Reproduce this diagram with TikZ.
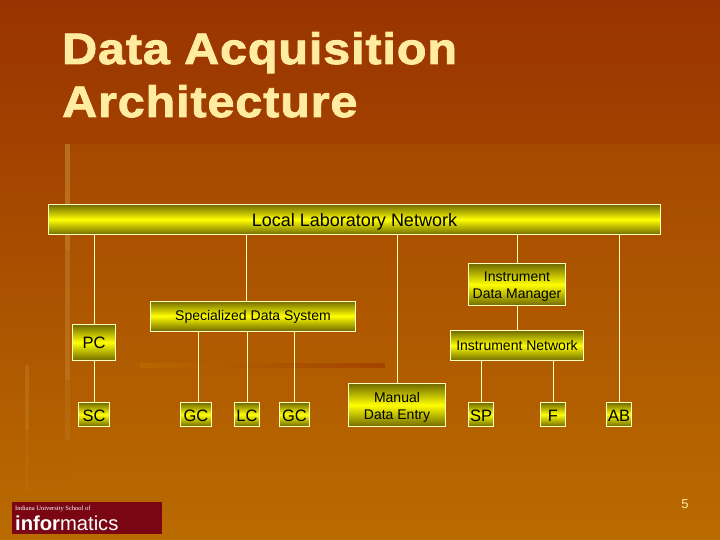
\documentclass[tikz,border=0pt]{standalone}
\usepackage{fontspec}
\setmainfont{Liberation Sans}
\newfontfamily\titlefont[FakeStretch=1.1,LetterSpace=2.1,FakeBold=2]{Liberation Sans Bold}
\newfontfamily\logofont{Liberation Serif}
\usepackage{tikz}
\usetikzlibrary{positioning, calc}
\definecolor{rusttop}   {RGB}{153, 51,  0}
\definecolor{rustbot}   {RGB}{186,107,  0}
\definecolor{titlecream}{RGB}{255,236,160}
\definecolor{boxedge}   {RGB}{255,255,190}
\definecolor{boxolive}  {RGB}{112,106,  0}
\definecolor{logored}   {RGB}{122,  6, 20}
\tikzset{
	netbox/.style={draw=boxedge,line width=1pt,top color=boxolive,bottom color=boxolive,middle color=yellow,
		text=black,align=center,inner sep=0pt,anchor=north west,text depth=0pt,text height=10pt,font=\fontsize{14}{17}\selectfont},
	netline/.style={draw=boxedge,line width=1pt},
	smallbox/.style={netbox,minimum height=24pt,text height=14pt,font=\fontsize{16.5}{18}\selectfont},
	titletext/.style={text=titlecream,anchor=base west,inner sep=0pt,font=\fontsize{44}{50}\titlefont}
}
\begin{document}
\begin{tikzpicture}[x=1pt,y=-1pt]
	\useasboundingbox (0,0) rectangle (720,540);
	% background
	\shade[top color=rusttop,bottom color=rustbot] (0,0) rectangle (720,540);
	\fill[rustbot,opacity=0.18] (70,144) rectangle (720,540);
	\fill[rustbot!80!white,opacity=0.6] (65,144) rectangle (70,250);
	\fill[rustbot!80!white,opacity=0.45] (65,250) rectangle (70,380);
	\fill[rustbot!80!white,opacity=0.25] (65,380) rectangle (70,440);
	\shade[left color=rustbot!92!rusttop,right color=rustbot!30!rusttop] (140,363) rectangle (385,367);
	\fill[rustbot!80!white,opacity=0.35] (25,365) rectangle (29,430);
	\fill[rustbot!80!white,opacity=0.15] (25,430) rectangle (29,490);
	% title
	\node[titletext] (title1) at (62,64) {Data Acquisition};
	\node[titletext] (title2) at (62,117) {Architecture};
	% boxes
	\node[netbox,minimum width=612pt,minimum height=30pt,text height=13pt,font=\fontsize{18}{20}\selectfont] (lln) at (48,204) {Local Laboratory Network};
	\node[netbox,minimum width=97pt,minimum height=42pt,text height=28pt] (idm) at (468,263) {Instrument\\Data Manager};
	\node[netbox,minimum width=205pt,minimum height=30pt,text height=9pt] (sds) at (150,300.5) {Specialized Data System};
	\node[netbox,minimum width=43pt,minimum height=36pt,text height=12pt,font=\fontsize{16.5}{18}\selectfont] (pc) at (72,324) {PC};
	\node[netbox,minimum width=133pt,minimum height=30pt] (inet) at (450,330) {Instrument Network};
	\node[smallbox,minimum width=31pt] (sc) at (78,402) {SC};
	\node[smallbox,minimum width=31pt] (gca) at (180,402) {GC};
	\node[smallbox,minimum width=25pt] (lc) at (234,402) {LC};
	\node[smallbox,minimum width=30pt] (gcb) at (279,402) {GC};
	\node[netbox,minimum width=97pt,minimum height=43pt,text height=29pt] (mde) at (348,383) {Manual\\Data Entry};
	\node[smallbox,minimum width=25pt] (sp) at (468,402) {SP};
	\node[smallbox,minimum width=25pt] (f) at (540,402) {F};
	\node[smallbox,minimum width=25pt] (ab) at (606,402) {AB};
	% connectors
	\draw[netline] (lln.south -| pc) -- (pc.north);
	\draw[netline] ($(lln.south -| sds)+(-7,0)$) -- ($(sds.north)+(-7,0)$);
	\draw[netline] (lln.south -| mde) -- (mde.north);
	\draw[netline] (lln.south -| idm) -- (idm.north);
	\draw[netline] (lln.south -| ab) -- (ab.north);
	\draw[netline] (pc.south -| sc) -- (sc.north);
	\draw[netline] (idm) -- (inet);
	\draw[netline] ($(sds.south -| gca)+(2.5,0)$) -- ($(gca.north)+(2.5,0)$);
	\draw[netline] (sds.south -| lc) -- (lc.north);
	\draw[netline] (sds.south -| gcb) -- (gcb.north);
	\draw[netline] (inet.south -| sp) -- (sp.north);
	\draw[netline] (inet.south -| f) -- (f.north);
	% logo and page number
	\node[fill=logored,minimum width=150pt,minimum height=32pt,anchor=north west,inner sep=0pt] (logo) at (12,502) {};
	\node[text=white,anchor=west,inner sep=0pt,font=\fontsize{6.5}{8}\logofont] (logotop) at (15,509) {Indiana University School of};
	\node[text=white,anchor=west,inner sep=0pt,font=\fontsize{20.2}{22}\selectfont] (logomain) at (15,523) {\textbf{infor}matics};
	\node[text=titlecream,inner sep=0pt,font=\fontsize{13}{15}\selectfont] (pagenum) at (685,504) {5};
\end{tikzpicture}
\end{document}
